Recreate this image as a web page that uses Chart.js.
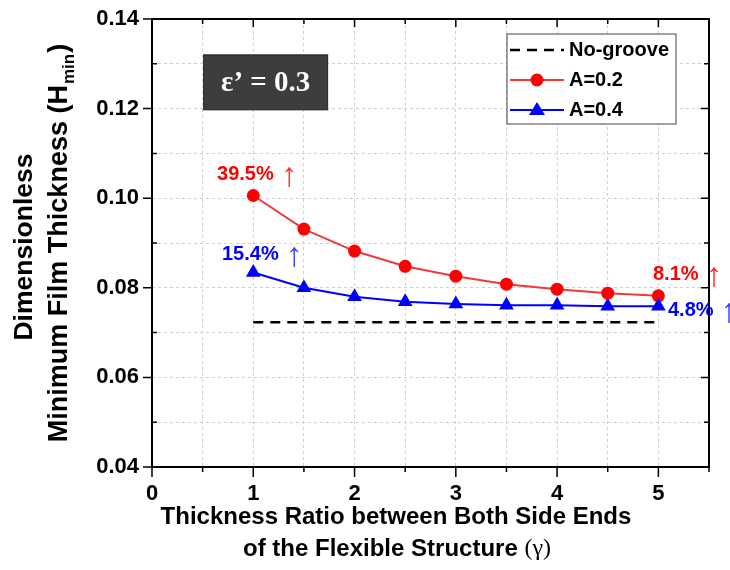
<!DOCTYPE html>
<html>
<head>
<meta charset="utf-8">
<script src="https://cdn.jsdelivr.net/npm/chart.js@4.4.1/dist/chart.umd.min.js"></script>
<style>
  html, body { margin: 0; padding: 0; background: #fff; }
  #wrap { width: 730px; height: 570px; }
</style>
</head>
<body>
<div id="wrap"><canvas id="filmChart"></canvas></div>
<script>
// ---- data ----
const gamma = [1, 1.5, 2, 2.5, 3, 3.5, 4, 4.5, 5];
const hminA02 = [0.1006, 0.0931, 0.0882, 0.0848, 0.0826, 0.0808, 0.0797, 0.0788, 0.0782];
const hminA04 = [0.0834, 0.0800, 0.0780, 0.0769, 0.0764, 0.0761, 0.0761, 0.0759, 0.0759];
const noGrooveX = [1, 5];
const noGrooveY = [0.0723, 0.0723];
const seriesNames = ['No-groove', 'A=0.2', 'A=0.4'];
const gainLabels = ['39.5%', '15.4%', '8.1%', '4.8%'];

const RED = '#ff0000';
const BLUE = '#0000ff';
const SANS = '"Liberation Sans", Arial, sans-serif';
const SERIF = '"Liberation Serif", "Times New Roman", serif';

const toXY = (xs, ys) => xs.map((v, i) => ({ x: v, y: ys[i] }));

//-------------------- frame, ticks, titles, notes --------------------//
const decorations = {
  id: 'decorations',
  afterDraw(chart) {
    const { ctx, chartArea: a, scales: { x, y } } = chart;
    ctx.save();

    // box
    ctx.strokeStyle = '#000';
    ctx.lineWidth = 2;
    ctx.setLineDash([]);
    ctx.strokeRect(a.left, a.top, a.right - a.left, a.bottom - a.top);

    // tick marks
    ctx.lineWidth = 1.5;
    ctx.beginPath();
    for (let i = 0; i <= 11; i++) {
      const px = x.getPixelForValue(i * 0.5);
      const major = i % 2 === 0;
      ctx.moveTo(px, a.bottom); ctx.lineTo(px, a.bottom + (major ? 10 : 5));
      ctx.moveTo(px, a.top); ctx.lineTo(px, a.top + (major ? 8 : 5));
    }
    for (let i = 0; i <= 10; i++) {
      const py = y.getPixelForValue(0.04 + i * 0.01);
      const major = i % 2 === 0;
      if (major) { ctx.moveTo(a.left - 9, py); ctx.lineTo(a.left, py); }
      else { ctx.moveTo(a.left, py); ctx.lineTo(a.left + 5, py); }
      ctx.moveTo(a.right, py); ctx.lineTo(a.right - (major ? 8 : 5), py);
    }
    ctx.stroke();

    // x title
    ctx.fillStyle = '#000';
    ctx.textBaseline = 'middle';
    ctx.textAlign = 'center';
    ctx.font = 'bold 24px ' + SANS;
    ctx.fillText('Thickness Ratio between Both Side Ends', 396, 517);
    const part1 = 'of the Flexible Structure ';
    const w1 = ctx.measureText(part1).width;
    ctx.font = '24px ' + SERIF;
    const w2 = ctx.measureText('(γ)').width;
    const sx = 397 - (w1 + w2) / 2;
    ctx.textAlign = 'left';
    ctx.font = 'bold 24px ' + SANS;
    ctx.fillText(part1, sx, 549);
    ctx.font = '24px ' + SERIF;
    ctx.fillText('(γ)', sx + w1, 549);

    // y title (rotated)
    ctx.save();
    ctx.translate(25, 247);
    ctx.rotate(-Math.PI / 2);
    ctx.textAlign = 'center';
    ctx.font = 'bold 26.5px ' + SANS;
    ctx.fillText('Dimensionless', 0, 0);
    ctx.restore();

    ctx.save();
    ctx.translate(60, 243);
    ctx.rotate(-Math.PI / 2);
    ctx.font = 'bold 27px ' + SANS;
    const main = 'Minimum Film Thickness (H';
    const mw = ctx.measureText(main).width;
    ctx.font = 'bold 17px ' + SANS;
    const sw = ctx.measureText('min').width;
    ctx.font = 'bold 27px ' + SANS;
    const cw = ctx.measureText(')').width;
    const tot = mw + sw + cw + 2;
    ctx.textAlign = 'left';
    ctx.fillText(main, -tot / 2, 0);
    ctx.font = 'bold 17px ' + SANS;
    ctx.fillText('min', -tot / 2 + mw + 1, 9);
    ctx.font = 'bold 27px ' + SANS;
    ctx.fillText(')', -tot / 2 + mw + sw + 2, 0);
    ctx.restore();

    // epsilon box
    const bx = x.getPixelForValue(0.51), by = y.getPixelForValue(0.132);
    ctx.fillStyle = '#3d3d3d';
    ctx.fillRect(bx, by, 124, 55);
    ctx.strokeStyle = '#222';
    ctx.lineWidth = 1;
    ctx.strokeRect(bx, by, 124, 55);
    ctx.fillStyle = '#fff';
    ctx.textAlign = 'center';
    ctx.font = 'bold 29px ' + SERIF;
    ctx.fillText('ε’ = 0.3', bx + 62, by + 29);

    // percentage notes
    const notes = [
      { t: gainLabels[0], gx: 0.642, gy: 0.1052, c: RED, ac: '#ff3030' },
      { t: gainLabels[1], gx: 0.691, gy: 0.0875, c: BLUE, ac: '#4040ff' },
      { t: gainLabels[2], gx: 4.947, gy: 0.0829, c: RED, ac: '#ff3030' },
      { t: gainLabels[3], gx: 5.095, gy: 0.0750, c: BLUE, ac: '#4040ff' }
    ];
    ctx.textAlign = 'left';
    notes.forEach(n => {
      const px = x.getPixelForValue(n.gx), py = y.getPixelForValue(n.gy);
      ctx.font = 'bold 20px ' + SANS;
      ctx.fillStyle = n.c;
      ctx.fillText(n.t, px, py);
      const tw = ctx.measureText(n.t).width;
      ctx.font = '34px ' + SANS;
      ctx.fillStyle = n.ac;
      ctx.fillText('↑', px + tw + 7, py + 2);
    });

    // legend
    const lx = a.right - 202, ly = a.top + 15;
    ctx.fillStyle = '#fff';
    ctx.fillRect(lx, ly, 169, 90);
    ctx.strokeStyle = '#444';
    ctx.lineWidth = 1;
    ctx.strokeRect(lx, ly, 169, 90);
    const rows = [ly + 16, ly + 46, ly + 76];
    // dashed
    ctx.strokeStyle = '#000';
    ctx.lineWidth = 2.5;
    ctx.setLineDash([10, 7]);
    ctx.beginPath(); ctx.moveTo(lx + 3, rows[0]); ctx.lineTo(lx + 57, rows[0]); ctx.stroke();
    ctx.setLineDash([]);
    // red
    ctx.strokeStyle = '#f03a3a';
    ctx.lineWidth = 2;
    ctx.beginPath(); ctx.moveTo(lx + 3, rows[1]); ctx.lineTo(lx + 57, rows[1]); ctx.stroke();
    ctx.fillStyle = RED;
    ctx.beginPath(); ctx.arc(lx + 30, rows[1], 6.5, 0, Math.PI * 2); ctx.fill();
    // blue
    ctx.strokeStyle = BLUE;
    ctx.beginPath(); ctx.moveTo(lx + 3, rows[2]); ctx.lineTo(lx + 57, rows[2]); ctx.stroke();
    ctx.fillStyle = BLUE;
    ctx.beginPath();
    ctx.moveTo(lx + 30, rows[2] - 8);
    ctx.lineTo(lx + 38, rows[2] + 5);
    ctx.lineTo(lx + 22, rows[2] + 5);
    ctx.closePath(); ctx.fill();
    ctx.fillStyle = '#000';
    ctx.font = 'bold 20px ' + SANS;
    seriesNames.forEach((s, i) => ctx.fillText(s, lx + 62, rows[i]));

    ctx.restore();
  }
};

//-------------------- chart --------------------//
const data = {
  datasets: [
    {
      label: seriesNames[0],
      data: toXY(noGrooveX, noGrooveY),
      borderColor: '#000',
      borderWidth: 2.5,
      borderDash: [10, 7],
      pointRadius: 0,
      order: 3
    },
    {
      label: seriesNames[1],
      data: toXY(gamma, hminA02),
      borderColor: '#f03a3a',
      borderWidth: 2,
      pointStyle: 'circle',
      pointRadius: 6.5,
      pointBackgroundColor: RED,
      pointBorderColor: RED,
      pointBorderWidth: 0,
      order: 2
    },
    {
      label: seriesNames[2],
      data: toXY(gamma, hminA04),
      borderColor: BLUE,
      borderWidth: 2,
      pointStyle: 'triangle',
      pointRadius: 8.5,
      pointBackgroundColor: BLUE,
      pointBorderColor: BLUE,
      pointBorderWidth: 0,
      order: 1
    }
  ]
};

const config = {
  type: 'line',
  data: data,
  plugins: [decorations],
  options: {
    responsive: true,
    maintainAspectRatio: false,
    animation: false,
    layout: { padding: { top: 19, right: 21, left: 0, bottom: 0 } },
    plugins: { legend: { display: false }, tooltip: { enabled: false } },
    scales: {
      x: {
        type: 'linear',
        min: 0,
        max: 5.5,
        afterFit: s => { s.height = 103; s.paddingLeft = 0; s.paddingRight = 0; },
        grid: { color: '#cfcfcf', lineWidth: 1, drawTicks: false },
        border: { display: false, dash: [3, 3] },
        ticks: {
          stepSize: 0.5,
          autoSkip: false,
          maxRotation: 0,
          padding: 14,
          color: '#000',
          font: { family: SANS, size: 22, weight: 'bold' },
          callback: v => (Number.isInteger(v) && v <= 5 ? String(v) : '')
        }
      },
      y: {
        min: 0.04,
        max: 0.14,
        afterFit: s => { s.width = 152; s.paddingTop = 0; s.paddingBottom = 0; },
        grid: { color: '#cfcfcf', lineWidth: 1, drawTicks: false },
        border: { display: false, dash: [3, 3] },
        ticks: {
          stepSize: 0.01,
          autoSkip: false,
          padding: 13,
          color: '#000',
          font: { family: SANS, size: 22, weight: 'bold' },
          callback: v => (Math.round(v * 100) % 2 === 0 ? v.toFixed(2) : '')
        }
      }
    }
  }
};

const filmChart = new Chart(document.getElementById('filmChart'), config);
</script>
</body>
</html>
